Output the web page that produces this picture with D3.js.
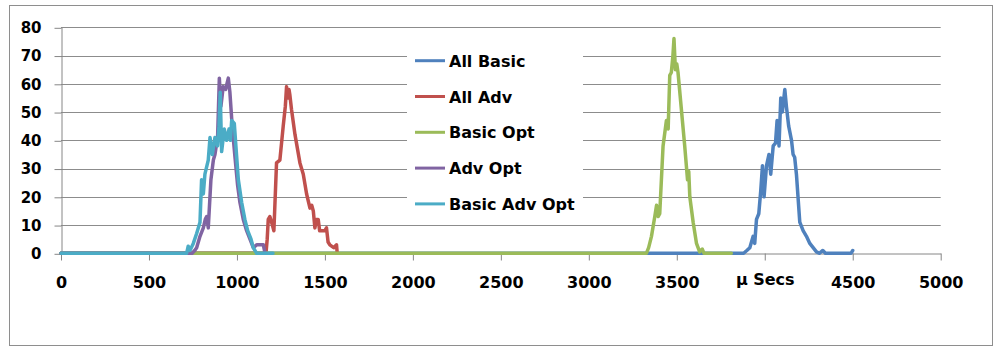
<!DOCTYPE html>
<html>
<head>
<meta charset="utf-8">
<script src="https://cdn.jsdelivr.net/npm/d3@7"></script>
<style>
  body { margin: 0; background: #fff; }
  svg { display: block; font-family: "DejaVu Sans", sans-serif; font-weight: bold; }
</style>
</head>
<body>
<svg id="chart" width="1000" height="353"></svg>
<script>
// histogram samples, [µs, count]
const allBasic = [[0,0],[3880,0],[3898,1],[3915,2],[3934,6],[3943,3.5],[3953,12],[3966,14],[3977,22],[3987,31],[3996,20],[4010,31],[4024,35],[4034,28],[4048,38],[4061,39],[4070,47],[4081,38],[4091,55],[4100,50],[4114,58],[4123,52],[4136,45],[4152,40],[4161,35],[4170,34],[4180,28],[4199,11],[4218,8],[4237,6],[4256,3.5],[4275,2],[4294,0.5],[4310,0],[4330,1],[4345,0],[4490,0],[4500,1]];
const allAdv = [[0,0],[1165,0],[1172,5],[1178,12],[1187,13],[1197,11],[1210,8],[1225,32],[1244,33],[1263,45],[1275,52],[1282,59],[1290,55],[1296,58],[1301,56],[1310,51],[1330,42],[1358,32],[1377,28],[1396,21],[1415,16],[1425,17],[1434,15],[1443,9],[1452,12],[1462,12],[1470,8],[1481,8],[1500,8],[1509,9],[1518,4],[1528,3],[1550,2],[1566,3],[1570,0]];
const basicOpt = [[0,0],[3327,0],[3340,2],[3356,6],[3375,13],[3385,17],[3394,13],[3403,14],[3422,38],[3441,47],[3451,44],[3460,63],[3469,64],[3478,70],[3484,76],[3492,65],[3500,67],[3507,64],[3526,51],[3545,38],[3561,26],[3568,29],[3574,20],[3593,11],[3612,3.5],[3630,0.5],[3645,1.5],[3655,0],[3810,0]];
const advOpt = [[0,0],[745,0],[760,1],[771,2],[790,6],[809,9],[820,12],[828,13],[837,9],[852,26],[866,33],[875,35],[890,41],[900,62],[909,52],[922,59],[936,58],[943,60],[951,62],[960,57],[973,45],[989,34],[1004,24],[1017,18],[1036,12],[1055,8],[1074,5],[1093,2],[1112,3],[1150,3],[1160,0]];
const basicAdvOpt = [[0,0],[714,0],[723,2.5],[733,1],[752,3.5],[771,7],[790,11],[799,26],[809,21],[818,28],[837,33],[847,41],[860,35],[875,41],[890,38],[898,45],[905,57],[913,36],[928,44],[941,40],[955,44],[963,40],[970,47],[985,46],[994,38],[1008,26],[1027,18],[1045,12],[1061,8],[1080,5],[1093,2],[1112,0],[1205,0]];

const seriesNames = ["All Basic", "All Adv", "Basic Opt", "Adv Opt", "Basic Adv Opt"];
const seriesColors = ["#4f81bd", "#c0504d", "#9bbb59", "#8064a2", "#4bacc6"];
const yTicks = [0, 10, 20, 30, 40, 50, 60, 70, 80];
const xTicks = [0, 500, 1000, 1500, 2000, 2500, 3000, 3500, 4000, 4500, 5000];
const xTickLabels = ["0", "500", "1000", "1500", "2000", "2500", "3000", "3500", "µ Secs", "4500", "5000"];

const series = [allBasic, allAdv, basicOpt, advOpt, basicAdvOpt];

const svg = d3.select("#chart");
const x = d3.scaleLinear().domain([0, 5000]).range([61, 940.7]);
const y = d3.scaleLinear().domain([0, 80]).range([253.3, 27.3]);

// outer frame
svg.append("rect")
  .attr("x", 9.5).attr("y", 5.5)
  .attr("width", 983).attr("height", 340)
  .attr("fill", "#fff")
  .attr("stroke", "#8e8e8e");

// gridlines
svg.append("g")
  .selectAll("line")
  .data(yTicks.filter(d => d > 0))
  .enter().append("line")
  .attr("x1", x(0)).attr("x2", x(5000))
  .attr("y1", d => Math.round(y(d)) + 0.5)
  .attr("y2", d => Math.round(y(d)) + 0.5)
  .attr("stroke", "#8c8c8c")
  .attr("stroke-width", 1);

// y axis
const yAxis = svg.append("g")
  .attr("transform", `translate(${Math.round(x(0)) + 0.5},0)`)
  .call(d3.axisLeft(y).tickValues(yTicks).tickSize(7).tickSizeOuter(0));
yAxis.select(".domain").attr("stroke", "#868686");
yAxis.selectAll(".tick line").attr("stroke", "#868686")
  .attr("transform", "translate(0,0.5)");
yAxis.selectAll(".tick text")
  .attr("x", -20)
  .attr("dy", "0.36em")
  .attr("fill", "#000")
  .style("font-family", "DejaVu Sans")
  .style("font-weight", "bold")
  .style("font-size", "15px");

// x axis
const xAxis = svg.append("g")
  .attr("transform", `translate(0,${Math.round(y(0)) + 0.5})`)
  .call(d3.axisBottom(x).tickValues(xTicks).tickSize(7).tickSizeOuter(0)
    .tickFormat((d, i) => xTickLabels[i]));
xAxis.select(".domain").attr("stroke", "#868686");
xAxis.selectAll(".tick line").attr("stroke", "#868686");
xAxis.selectAll(".tick text")
  .attr("y", 23)
  .attr("dy", "0.71em")
  .attr("fill", "#000")
  .style("font-family", "DejaVu Sans")
  .style("font-weight", "bold")
  .style("font-size", "16px")
  .filter(d => d === 4000)
  .attr("y", 20);

// lines
const line = d3.line()
  .x(d => x(d[0]))
  .y(d => y(d[1]));

svg.append("g")
  .selectAll("path")
  .data(series)
  .enter().append("path")
  .attr("d", line)
  .attr("fill", "none")
  .attr("stroke", (d, i) => seriesColors[i])
  .attr("stroke-width", 3.5)
  .attr("stroke-linejoin", "round")
  .attr("stroke-linecap", "round");

// legend
const legend = svg.append("g");
legend.append("rect")
  .attr("x", 407).attr("y", 38)
  .attr("width", 176).attr("height", 184)
  .attr("fill", "#fff");

const rows = legend.selectAll("g.row")
  .data(seriesNames)
  .enter().append("g")
  .attr("class", "row")
  .attr("transform", (d, i) => `translate(0,${60.7 + i * 35.8})`);

rows.append("line")
  .attr("x1", 415).attr("x2", 445)
  .attr("stroke", (d, i) => seriesColors[i])
  .attr("stroke-width", 3);

rows.append("text")
  .attr("x", 449)
  .attr("y", 6)
  .attr("fill", "#000")
  .style("font-size", "16px")
  .text(d => d);
</script>
</body>
</html>
